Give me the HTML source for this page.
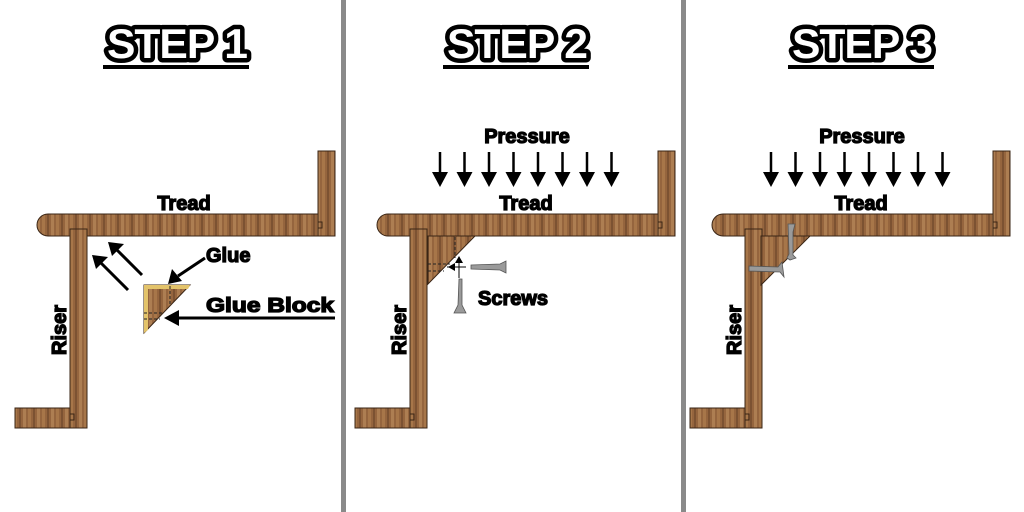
<!DOCTYPE html>
<html><head><meta charset="utf-8"><style>
body{margin:0;background:#fff}
svg{display:block}
text{font-family:"Liberation Sans",sans-serif;font-weight:bold}
.lb{stroke:#000;stroke-width:1.3;paint-order:stroke}
</style></head><body>
<svg width="1024" height="512" viewBox="0 0 1024 512">
<defs>
<pattern id="wood" width="14" height="40" patternUnits="userSpaceOnUse">
<rect width="14" height="40" fill="#95653e"/>
<rect x="0" width="3" height="40" fill="#a77649"/>
<rect x="5" width="2" height="40" fill="#7c5232"/>
<rect x="9" width="3" height="40" fill="#ad7e52"/>
</pattern>
<g id="stair">
<path d="M48 214 H335 V236 H48 A11 11 0 0 1 48 214 Z" fill="url(#wood)" stroke="#3a2515" stroke-width="1"/>
<rect x="318" y="151" width="17" height="85" fill="url(#wood)" stroke="#3a2515"/>
<path d="M318 222 h4 v6 h-4" fill="none" stroke="#3a2515"/>
<rect x="15" y="408" width="72" height="20" fill="url(#wood)" stroke="#3a2515"/>
<rect x="70" y="229" width="17" height="199" fill="url(#wood)" stroke="#3a2515"/>
<path d="M70 414 h4 v6 h-4" fill="none" stroke="#3a2515"/>
</g>
<g id="arrows">
<g stroke="#000" stroke-width="2.5">
<line x1="0" y1="152" x2="0" y2="175"/><line x1="24.5" y1="152" x2="24.5" y2="175"/><line x1="49" y1="152" x2="49" y2="175"/><line x1="73.5" y1="152" x2="73.5" y2="175"/><line x1="98" y1="152" x2="98" y2="175"/><line x1="122.5" y1="152" x2="122.5" y2="175"/><line x1="147" y1="152" x2="147" y2="175"/><line x1="171.5" y1="152" x2="171.5" y2="175"/>
</g>
<g fill="#000">
<path d="M-8 172 h16 l-8 15z"/><path d="M16.5 172 h16 l-8 15z"/><path d="M41 172 h16 l-8 15z"/><path d="M65.5 172 h16 l-8 15z"/><path d="M90 172 h16 l-8 15z"/><path d="M114.5 172 h16 l-8 15z"/><path d="M139 172 h16 l-8 15z"/><path d="M163.5 172 h16 l-8 15z"/>
</g>
</g>
</defs>

<rect x="341" y="0" width="5" height="512" fill="#8a8a8a"/>
<rect x="681" y="0" width="5" height="512" fill="#8a8a8a"/>

<g font-size="42" text-anchor="middle" fill="#fff" stroke="#000" stroke-width="9" paint-order="stroke" stroke-linejoin="round" style="font-family:'Liberation Sans',sans-serif;font-weight:bold;letter-spacing:-1px">
<text x="177" y="58" textLength="140" lengthAdjust="spacingAndGlyphs">STEP 1</text>
<text x="517" y="58" textLength="140" lengthAdjust="spacingAndGlyphs">STEP 2</text>
<text x="862" y="58" textLength="140" lengthAdjust="spacingAndGlyphs">STEP 3</text>
</g>
<rect x="103" y="65" width="146" height="4" fill="#000"/>
<rect x="443" y="65" width="146" height="4" fill="#000"/>
<rect x="788" y="65" width="146" height="4" fill="#000"/>

<!-- step 1 -->
<use href="#stair"/>
<text class="lb" x="184" y="210" font-size="20" text-anchor="middle">Tread</text>
<text class="lb" x="0" y="0" font-size="20" transform="translate(66 355) rotate(-90)">Riser</text>
<g stroke="#000" stroke-width="3"><line x1="128" y1="290" x2="100" y2="262"/><line x1="142" y1="275" x2="116" y2="249"/></g>
<path d="M92 255 l16 2 l-12 12z M108 242 l16 2 l-12 12z" fill="#000"/>
<path d="M144 285 L190 285 L144 333 Z" fill="url(#wood)" stroke="#3a2515"/>
<path d="M144 285 L190 285 L188 289 L148 289 L148 330 L144 333Z" fill="#e3c36a"/>
<path d="M144 313 H163 M144 319 H160 M170 286 V304" stroke="#222" stroke-dasharray="3 2" fill="none"/>
<text class="lb" x="206" y="262" font-size="20">Glue</text>
<line x1="205" y1="258" x2="178" y2="276" stroke="#000" stroke-width="3"/>
<path d="M168 284 l4 -15 l10 12z" fill="#000"/>
<text class="lb" x="206" y="312" font-size="20" textLength="128" lengthAdjust="spacingAndGlyphs">Glue Block</text>
<line x1="175" y1="318" x2="335" y2="318" stroke="#000" stroke-width="3"/>
<path d="M164 318 l15 -8 v16z" fill="#000"/>

<!-- step 2 -->
<use href="#stair" transform="translate(340 0)"/>
<text class="lb" x="527" y="143" font-size="20" text-anchor="middle">Pressure</text>
<use href="#arrows" transform="translate(440 0)"/>
<text class="lb" x="526" y="210" font-size="20" text-anchor="middle">Tread</text>
<text class="lb" x="0" y="0" font-size="20" transform="translate(406 355) rotate(-90)">Riser</text>
<path d="M428 236 L475 236 L428 284 Z" fill="url(#wood)" stroke="#3a2515"/>
<path d="M428 264 H450 M428 271 H444 M455 237 V258" stroke="#222" stroke-dasharray="3 2" fill="none"/>
<line x1="447" y1="267" x2="466" y2="267" stroke="#000"/><line x1="459" y1="258" x2="459" y2="278" stroke="#000"/>
<path d="M448 267 l7 -4 v8z M459 256 l-4 7 h8z" fill="#000"/>
<path d="M471 265 L500 264 L506 261 L506 273 L500 270 L471 269Z" fill="#9a9a9a" stroke="#555" stroke-width="0.8"/>
<path d="M459 279 L462 279 L462 305 L466 313 L454 313 L458 305Z" fill="#9a9a9a" stroke="#555" stroke-width="0.8"/>
<text class="lb" x="478" y="305" font-size="20">Screws</text>

<!-- step 3 -->
<use href="#stair" transform="translate(675 0)"/>
<text class="lb" x="862" y="143" font-size="20" text-anchor="middle">Pressure</text>
<use href="#arrows" transform="translate(771 0)"/>
<text class="lb" x="861" y="210" font-size="20" text-anchor="middle">Tread</text>
<text class="lb" x="0" y="0" font-size="20" transform="translate(741 355) rotate(-90)">Riser</text>
<path d="M761 236 L810 236 L761 285 Z" fill="url(#wood)" stroke="#3a2515"/>
<path d="M788 224 L795 224 L793 232 L793 255 L796 258 L790 260 L787 258 L789 254Z" fill="#9a9a9a" stroke="#555" stroke-width="0.8"/>
<path d="M749 266 L778 267 L782 262 L784 277 L780 272 L749 271Z" fill="#9a9a9a" stroke="#555" stroke-width="0.8"/>
</svg>
</body></html>
